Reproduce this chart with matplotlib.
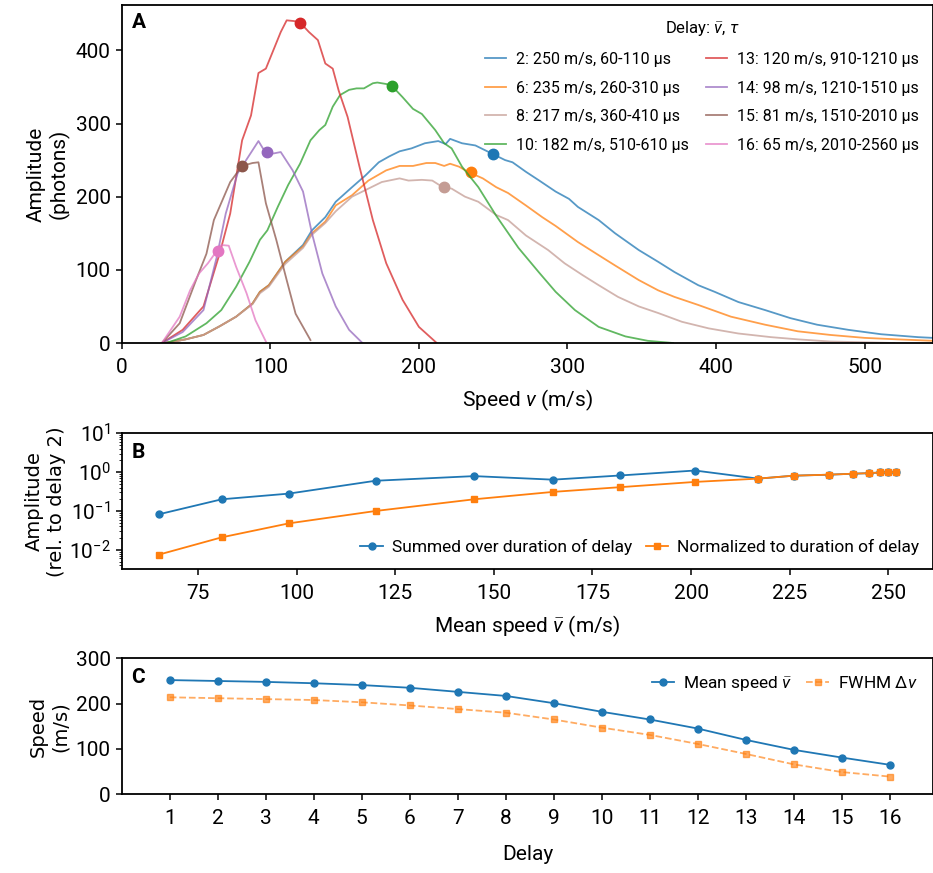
import matplotlib
matplotlib.use('Agg')
import matplotlib.pyplot as plt
import matplotlib.ticker as mticker
from matplotlib import font_manager

# --- panel A: speed distributions per delay ---
v2 = [27, 35, 43, 55, 66, 77, 88, 93, 99, 110, 122, 128, 137, 144, 155, 164, 173, 180, 187, 195, 204, 213,
      218, 221, 229, 238, 250, 258, 263, 272, 281, 292, 301, 307, 321, 332, 348, 361, 372, 388, 399, 415,
      433, 450, 468, 489, 511, 536, 546]
a2 = [0, 2, 5, 11, 23, 36, 54, 70, 79, 111, 134, 154, 172, 193, 213, 229, 247, 255, 262, 266, 273, 276,
      272, 279, 273, 270, 258, 250, 247, 234, 222, 207, 197, 186, 168, 150, 127, 111, 97, 79, 70, 56,
      45, 34, 25, 18, 12, 8, 7]
v6 = [27, 35, 43, 55, 66, 77, 88, 93, 99, 110, 122, 128, 137, 144, 155, 166, 178, 187, 196, 205, 211, 217,
      221, 227, 233, 243, 252, 260, 272, 283, 292, 307, 321, 332, 348, 361, 372, 388, 410, 433, 455, 477,
      500, 522, 546]
a6 = [0, 2, 5, 11, 23, 36, 54, 70, 79, 111, 132, 150, 166, 188, 202, 222, 236, 242, 242, 246, 246, 242,
      245, 241, 234, 225, 213, 205, 188, 172, 160, 138, 120, 106, 86, 72, 63, 52, 36, 25, 16, 11,
      7, 5, 3]
v8 = [27, 35, 43, 55, 66, 77, 88, 93, 99, 110, 122, 128, 137, 144, 155, 164, 175, 187, 193, 202, 209, 216,
      222, 231, 240, 252, 260, 272, 287, 298, 310, 321, 334, 348, 361, 377, 395, 415, 437, 455, 477, 500, 520]
a8 = [0, 2, 5, 11, 23, 36, 53, 68, 77, 108, 130, 148, 164, 180, 200, 209, 220, 225, 222, 223, 222, 213,
      211, 200, 193, 175, 168, 147, 127, 109, 93, 79, 63, 50, 41, 29, 20, 13, 8, 5, 2, 1, 0]
v10 = [30, 43, 57, 67, 77, 86, 93, 98, 105, 112, 120, 127, 133, 137, 142, 147, 153, 158, 163, 169, 172, 178,
       182, 189, 196, 202, 211, 217, 222, 229, 240, 252, 267, 281, 292, 305, 321, 339, 354, 371]
a10 = [0, 9, 27, 45, 77, 111, 141, 154, 186, 216, 245, 277, 291, 298, 323, 339, 346, 348, 348, 355, 356, 354,
       351, 336, 320, 313, 291, 273, 266, 241, 213, 174, 130, 96, 70, 45, 22, 9, 3, 0]
v13 = [27, 41, 55, 66, 73, 81, 87, 92, 97, 103, 107, 111, 116, 120, 126, 132, 137, 142, 146, 152, 160, 169,
       178, 189, 200, 212]
a13 = [0, 18, 50, 123, 177, 277, 311, 369, 375, 405, 425, 441, 440, 438, 425, 414, 382, 375, 345, 309, 241, 168,
       109, 59, 22, 0]
v14 = [27, 41, 55, 64, 70, 78, 85, 92, 95, 98, 102, 107, 115, 122, 128, 135, 144, 153, 162]
a14 = [0, 15, 45, 118, 177, 232, 254, 276, 266, 261, 259, 261, 236, 207, 150, 95, 50, 18, 0]
v15 = [27, 39, 50, 57, 62, 73, 81, 88, 92, 97, 104, 111, 117, 127]
a15 = [0, 27, 86, 122, 168, 220, 242, 246, 247, 191, 141, 86, 40, 4]
v16 = [27, 39, 46, 52, 58, 64, 67, 72, 77, 84, 90, 97]
a16 = [0, 36, 72, 95, 109, 126, 134, 133, 104, 68, 31, 2]

curve_v = [v2, v6, v8, v10, v13, v14, v15, v16]
curve_a = [a2, a6, a8, a10, a13, a14, a15, a16]
curve_labels = ['2: 250 m/s, 60-110 µs', '6: 235 m/s, 260-310 µs', '8: 217 m/s, 360-410 µs',
                '10: 182 m/s, 510-610 µs', '13: 120 m/s, 910-1210 µs', '14: 98 m/s, 1210-1510 µs',
                '15: 81 m/s, 1510-2010 µs', '16: 65 m/s, 2010-2560 µs']
curve_colors = ['#1f77b4', '#ff7f0e', '#c49c94', '#2ca02c', '#d62728', '#9467bd', '#8c564b', '#e377c2']
peak_v = [250, 235, 217, 182, 120, 98, 81, 65]
peak_a = [258, 234, 213, 351, 438, 261, 242, 126]

# --- panels B and C: per delay 1..16 ---
delays = list(range(1, 17))
mean_speed = [252, 250, 248, 245, 241, 235, 226, 217, 201, 182, 165, 145, 120, 98, 81, 65]
fwhm = [214, 212, 210, 208, 203, 196, 188, 180, 165, 147, 131, 111, 89, 66, 49, 39]
amp_summed = [1.0, 1.0, 0.98, 0.94, 0.91, 0.86, 0.81, 0.68, 1.10, 0.82, 0.64, 0.79, 0.60, 0.28, 0.20, 0.082]
amp_norm = [1.0, 1.0, 0.98, 0.94, 0.91, 0.86, 0.81, 0.68, 0.56, 0.41, 0.31, 0.20, 0.10, 0.048, 0.021, 0.0075]

names = {f.name for f in font_manager.fontManager.ttflist}
narrow = 'Liberation Sans Narrow' if 'Liberation Sans Narrow' in names else 'Roboto'

plt.rcParams['font.family'] = [narrow, 'DejaVu Sans']
plt.rcParams['mathtext.fontset'] = 'custom'
plt.rcParams['mathtext.rm'] = narrow
plt.rcParams['mathtext.it'] = narrow + ':italic'
plt.rcParams['axes.linewidth'] = 1.3
plt.rcParams['xtick.major.width'] = 1.1
plt.rcParams['ytick.major.width'] = 1.1
plt.rcParams['xtick.major.size'] = 4.5
plt.rcParams['ytick.major.size'] = 4.5
plt.rcParams['xtick.major.pad'] = 6

fig = plt.figure(figsize=(9.33, 8.73), dpi=100)
axA = fig.add_axes([0.1305, 0.6071, 0.8695, 0.3872])
axB = fig.add_axes([0.1305, 0.3479, 0.8695, 0.1558])
axC = fig.add_axes([0.1305, 0.0902, 0.8695, 0.1557])

# panel A
for v, a, lab, col, pv, pa in zip(curve_v, curve_a, curve_labels, curve_colors, peak_v, peak_a):
    axA.plot(v, a, color=col, lw=1.3, alpha=0.75, label=lab)
    axA.plot(pv, pa, 'o', color=col, ms=7.5)
axA.set_xlim(0, 546)
axA.set_ylim(0, 462)
axA.set_xticks([0, 100, 200, 300, 400, 500])
axA.set_yticks([0, 100, 200, 300, 400])
axA.tick_params(labelsize=15)
axA.set_xlabel('Speed $v$ (m/s)', fontsize=15, labelpad=8)
axA.set_ylabel('Amplitude\n(photons)', fontsize=15)
axA.legend(loc='upper right', ncol=2, frameon=False, fontsize=11.5, title='Delay: $\\bar{v}$, $\\tau$',
           title_fontsize=12, handlelength=1.3, columnspacing=1.1, handletextpad=0.6,
           labelspacing=0.85, borderaxespad=0.5)
axA.text(0.012, 0.975, 'A', transform=axA.transAxes, fontsize=15, fontweight='bold', va='top')

# panel B
axB.semilogy(mean_speed, amp_summed, 'o-', color='#1f77b4', ms=5, lw=1.3,
             label='Summed over duration of delay')
axB.semilogy(mean_speed, amp_norm, 's-', color='#ff7f0e', ms=5, lw=1.3,
             label='Normalized to duration of delay')
axB.set_ylim(10 ** -2.5, 10 ** 1)
axB.set_yticks([1e-2, 1e-1, 1e0, 1e1])
axB.yaxis.set_minor_locator(mticker.LogLocator(base=10, subs='auto', numticks=20))
axB.yaxis.set_minor_formatter(mticker.NullFormatter())
axB.set_xticks([75, 100, 125, 150, 175, 200, 225, 250])
axB.tick_params(labelsize=15)
axB.set_xlabel('Mean speed $\\bar{v}$ (m/s)', fontsize=15, labelpad=8)
axB.set_ylabel('Amplitude\n(rel. to delay 2)', fontsize=14, family='DejaVu Sans', labelpad=2)
axB.legend(loc='lower right', ncol=2, frameon=False, fontsize=12.5, handlelength=1.3,
           columnspacing=0.8, handletextpad=0.5, borderaxespad=0.4)
axB.text(0.012, 0.93, 'B', transform=axB.transAxes, fontsize=15, fontweight='bold', va='top')

# panel C
axC.plot(delays, mean_speed, 'o-', color='#1f77b4', ms=5, lw=1.3, label='Mean speed $\\bar{v}$')
axC.plot(delays, fwhm, 's--', color='#ff7f0e', ms=5, lw=1.3, alpha=0.65, label='FWHM $\\Delta v$')
axC.set_xlim(0, 16.9)
axC.set_ylim(0, 300)
axC.set_xticks(delays)
axC.set_yticks([0, 100, 200, 300])
axC.tick_params(labelsize=15)
axC.set_xlabel('Delay', fontsize=15, labelpad=12)
axC.set_ylabel('Speed\n(m/s)', fontsize=14, family='DejaVu Sans', labelpad=4)
axC.legend(loc='upper right', ncol=2, frameon=False, fontsize=12.5, handlelength=1.3,
           columnspacing=0.8, handletextpad=0.5)
axC.text(0.012, 0.93, 'C', transform=axC.transAxes, fontsize=15, fontweight='bold', va='top')

fig.savefig('out.png', dpi=100)
